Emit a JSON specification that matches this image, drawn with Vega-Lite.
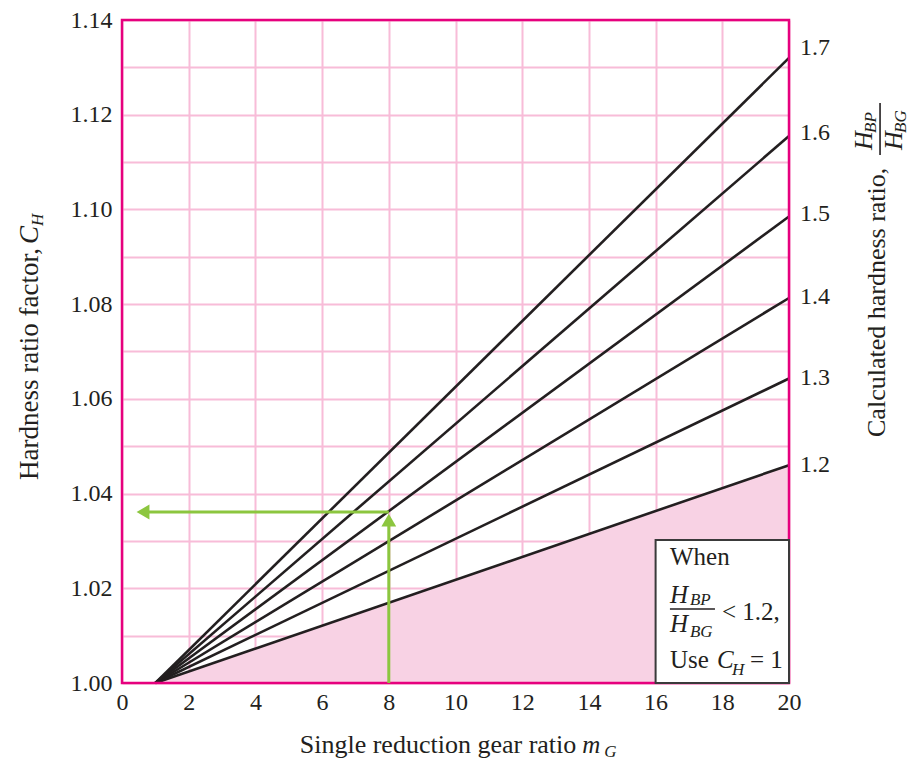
{
  "$schema": "https://vega.github.io/schema/vega-lite/v6.json",
  "autosize": {"type": "none"},
  "padding": {"left": 122, "top": 20, "right": 127, "bottom": 78},
  "width": 667,
  "height": 663,
  "background": "white",
  "config": {
    "view": {"stroke": null},
    "font": "Liberation Serif, Times New Roman, Tinos, serif",
    "text": {"font": "Liberation Serif, Times New Roman, Tinos, serif", "color": "#231F20"}
  },
  "datasets": {
    "lines": [
      {"r": "1.2", "m": 1, "c": 1.0}, {"r": "1.2", "m": 20, "c": 1.046},
      {"r": "1.3", "m": 1, "c": 1.0}, {"r": "1.3", "m": 20, "c": 1.0643},
      {"r": "1.4", "m": 1, "c": 1.0}, {"r": "1.4", "m": 20, "c": 1.0813},
      {"r": "1.5", "m": 1, "c": 1.0}, {"r": "1.5", "m": 20, "c": 1.0985},
      {"r": "1.6", "m": 1, "c": 1.0}, {"r": "1.6", "m": 20, "c": 1.1155},
      {"r": "1.7", "m": 1, "c": 1.0}, {"r": "1.7", "m": 20, "c": 1.132}
    ],
    "rlabels": [
      {"t": "1.2", "m": 20, "c": 1.046},
      {"t": "1.3", "m": 20, "c": 1.0644},
      {"t": "1.4", "m": 20, "c": 1.0815},
      {"t": "1.5", "m": 20, "c": 1.099},
      {"t": "1.6", "m": 20, "c": 1.1161},
      {"t": "1.7", "m": 20, "c": 1.1341}
    ],
    "frames": [
      {"k": "border", "m": 0, "m2": 20, "c": 1.0, "c2": 1.14},
      {"k": "box", "m": 16, "m2": 20, "c": 1.0, "c2": 1.0302}
    ],
    "green": [
      {"m": 8, "m2": 8, "c": 1.0, "c2": 1.034},
      {"m": 8, "m2": 0.7, "c": 1.0361, "c2": 1.0361}
    ],
    "heads": [
      {"dir": "up", "m": 8, "c": 1.0344},
      {"dir": "left", "m": 0.63, "c": 1.0361}
    ],
    "bars": [
      {"m": 16.43, "m2": 17.78, "c": 1.01563, "c2": 1.01563},
      {"m": 22.73, "m2": 22.73, "c": 1.11149, "c2": 1.12247}
    ],
    "texts": [
      {"kind": "t", "t": "Single reduction gear ratio", "m": 5.33, "c": 0.98522},
      {"kind": "i", "t": "m", "m": 13.8, "c": 0.98522},
      {"kind": "s", "t": "G", "m": 14.46, "c": 0.98437},
      {"kind": "n", "t": "When", "m": 16.43, "c": 1.02492},
      {"kind": "i", "t": "H", "m": 16.43, "c": 1.01689},
      {"kind": "s", "t": "BP", "m": 17.03, "c": 1.01647},
      {"kind": "i", "t": "H", "m": 16.43, "c": 1.01077},
      {"kind": "s", "t": "BG", "m": 17.03, "c": 1.00971},
      {"kind": "n", "t": "< 1.2,", "m": 17.99, "c": 1.0133},
      {"kind": "n", "t": "Use", "m": 16.43, "c": 1.00317},
      {"kind": "i", "t": "C", "m": 17.84, "c": 1.00317},
      {"kind": "s", "t": "H", "m": 18.29, "c": 1.00169},
      {"kind": "n", "t": "= 1", "m": 18.83, "c": 1.00317},
      {"kind": "rl", "t": "Hardness ratio factor,", "m": -2.52, "c": 1.04286},
      {"kind": "ril", "t": "C", "m": -2.52, "c": 1.0927},
      {"kind": "rs", "t": "H", "m": -2.37, "c": 1.0965},
      {"kind": "rn", "t": "Calculated hardness ratio,", "m": 22.88, "c": 1.05195},
      {"kind": "ri", "t": "H", "m": 22.49, "c": 1.11255},
      {"kind": "rs", "t": "BP", "m": 22.61, "c": 1.11614},
      {"kind": "ri", "t": "H", "m": 23.39, "c": 1.11255},
      {"kind": "rs", "t": "BG", "m": 23.51, "c": 1.11614}
    ]
  },
  "encoding": {
    "x": {"field": "m", "type": "quantitative", "scale": {"domain": [0, 20], "nice": false, "zero": false}},
    "y": {"field": "c", "type": "quantitative", "scale": {"domain": [1.0, 1.14], "nice": false, "zero": false}}
  },
  "layer": [
    {
      "data": {"name": "lines"},
      "transform": [{"filter": "datum.r == '1.2'"}],
      "mark": {"type": "area", "color": "#F8D2E4"},
      "encoding": {
        "x": {"field": "m", "type": "quantitative",
          "axis": {"values": [0, 2, 4, 6, 8, 10, 12, 14, 16, 18, 20], "grid": true, "gridColor": "#F8BCD8", "gridWidth": 2, "ticks": false, "domain": false, "labelFont": "Liberation Serif, Times New Roman, Tinos, serif", "labelFontSize": 24, "labelColor": "#231F20", "labelPadding": 7, "title": null, "labelFlush": false}},
        "y": {"field": "c", "type": "quantitative",
          "axis": {"values": [1.0, 1.01, 1.02, 1.03, 1.04, 1.05, 1.06, 1.07, 1.08, 1.09, 1.1, 1.11, 1.12, 1.13, 1.14], "labelExpr": "round(datum.value*100) % 2 == 0 ? format(datum.value, '.2f') : ''", "grid": true, "gridColor": "#F8BCD8", "gridWidth": 2, "ticks": false, "domain": false, "labelFont": "Liberation Serif, Times New Roman, Tinos, serif", "labelFontSize": 24, "labelColor": "#231F20", "labelPadding": 10, "title": null, "labelFlush": false}},
        "y2": {"datum": 1.0}
      }
    },
    {
      "data": {"name": "lines"},
      "mark": {"type": "line", "color": "#231F20", "strokeWidth": 2.6},
      "encoding": {"detail": {"field": "r"}}
    },
    {
      "data": {"name": "frames"},
      "transform": [{"filter": "datum.k == 'border'"}],
      "mark": {"type": "rect", "fillOpacity": 0, "stroke": "#E6007E", "strokeWidth": 2.5},
      "encoding": {"x2": {"field": "m2"}, "y2": {"field": "c2"}}
    },
    {
      "data": {"name": "frames"},
      "transform": [{"filter": "datum.k == 'box'"}],
      "mark": {"type": "rect", "fill": "white", "stroke": "#3A3A3A", "strokeWidth": 2},
      "encoding": {"x2": {"field": "m2"}, "y2": {"field": "c2"}}
    },
    {
      "data": {"name": "green"},
      "mark": {"type": "rule", "color": "#8CC63F", "strokeWidth": 3},
      "encoding": {"x2": {"field": "m2"}, "y2": {"field": "c2"}}
    },
    {
      "data": {"name": "heads"},
      "mark": {"type": "point", "filled": true, "color": "#8CC63F", "size": 220, "opacity": 1},
      "encoding": {"shape": {"field": "dir", "type": "nominal", "scale": {"domain": ["up", "left"], "range": ["triangle-up", "triangle-left"]}, "legend": null}}
    },
    {
      "data": {"name": "bars"},
      "mark": {"type": "rule", "color": "#231F20", "strokeWidth": 1.6},
      "encoding": {"x2": {"field": "m2"}, "y2": {"field": "c2"}}
    },
    {
      "data": {"name": "rlabels"},
      "mark": {"type": "text", "align": "left", "baseline": "middle", "dx": 11, "fontSize": 24},
      "encoding": {"text": {"field": "t"}}
    },
    {
      "data": {"name": "texts"},
      "transform": [{"filter": "datum.kind == 'n'"}],
      "mark": {"type": "text", "align": "left", "baseline": "alphabetic", "fontSize": 25},
      "encoding": {"text": {"field": "t"}}
    },
    {
      "data": {"name": "texts"},
      "transform": [{"filter": "datum.kind == 't'"}],
      "mark": {"type": "text", "align": "left", "baseline": "alphabetic", "fontSize": 26},
      "encoding": {"text": {"field": "t"}}
    },
    {
      "data": {"name": "texts"},
      "transform": [{"filter": "datum.kind == 'i'"}],
      "mark": {"type": "text", "align": "left", "baseline": "alphabetic", "fontSize": 25, "fontStyle": "italic"},
      "encoding": {"text": {"field": "t"}}
    },
    {
      "data": {"name": "texts"},
      "transform": [{"filter": "datum.kind == 's'"}],
      "mark": {"type": "text", "align": "left", "baseline": "alphabetic", "fontSize": 17, "fontStyle": "italic"},
      "encoding": {"text": {"field": "t"}}
    },
    {
      "data": {"name": "texts"},
      "transform": [{"filter": "datum.kind == 'rn'"}],
      "mark": {"type": "text", "align": "left", "baseline": "alphabetic", "fontSize": 26, "angle": 270},
      "encoding": {"text": {"field": "t"}}
    },
    {
      "data": {"name": "texts"},
      "transform": [{"filter": "datum.kind == 'rl'"}],
      "mark": {"type": "text", "align": "left", "baseline": "alphabetic", "fontSize": 27, "angle": 270},
      "encoding": {"text": {"field": "t"}}
    },
    {
      "data": {"name": "texts"},
      "transform": [{"filter": "datum.kind == 'ril'"}],
      "mark": {"type": "text", "align": "left", "baseline": "alphabetic", "fontSize": 27, "angle": 270, "fontStyle": "italic"},
      "encoding": {"text": {"field": "t"}}
    },
    {
      "data": {"name": "texts"},
      "transform": [{"filter": "datum.kind == 'ri'"}],
      "mark": {"type": "text", "align": "left", "baseline": "alphabetic", "fontSize": 26, "angle": 270, "fontStyle": "italic"},
      "encoding": {"text": {"field": "t"}}
    },
    {
      "data": {"name": "texts"},
      "transform": [{"filter": "datum.kind == 'rs'"}],
      "mark": {"type": "text", "align": "left", "baseline": "alphabetic", "fontSize": 17, "angle": 270, "fontStyle": "italic"},
      "encoding": {"text": {"field": "t"}}
    }
  ]
}
